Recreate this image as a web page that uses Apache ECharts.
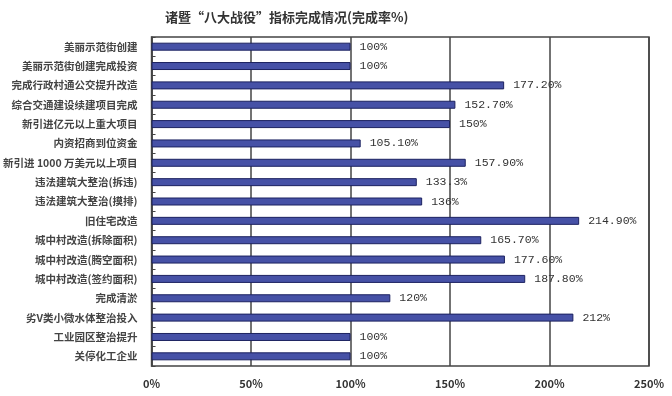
<!DOCTYPE html>
<html><head><meta charset="utf-8">
<script src="https://cdn.jsdelivr.net/npm/echarts@6/dist/echarts.min.js"></script>
<style>html,body{margin:0;padding:0;background:#fff}#c{width:672px;height:396px}</style>
</head><body><div id="c"></div>
<script>
const titleText = '诸暨“八大战役”指标完成情况(完成率%)';
const categories = ['美丽示范街创建','美丽示范街创建完成投资','完成行政村通公交提升改造','综合交通建设续建项目完成','新引进亿元以上重大项目','内资招商到位资金','新引进 1000 万美元以上项目','违法建筑大整治(拆违)','违法建筑大整治(摸排)','旧住宅改造','城中村改造(拆除面积)','城中村改造(腾空面积)','城中村改造(签约面积)','完成清淤','劣V类小微水体整治投入','工业园区整治提升','关停化工企业'];
const values = [100,100,177.2,152.7,150,105.1,157.9,133.3,136,214.9,165.7,177.6,187.8,120,212,100,100];
const valueLabels = ['100%','100%','177.20%','152.70%','150%','105.10%','157.90%','133.3%','136%','214.90%','165.70%','177.60%','187.80%','120%','212%','100%','100%'];
const xTicks = [0,50,100,150,200,250];

const chart = echarts.init(document.getElementById('c'));
const font = '"Noto Sans CJK SC", "Noto Sans", sans-serif';
const mono = '"Liberation Mono", "DejaVu Sans Mono", monospace';
chart.setOption({
  backgroundColor:'#fff',
  animation:false,
  title:{text:titleText,left:160,top:6,textStyle:{fontFamily:font,fontSize:13,fontWeight:'bold',color:'#333'}},
  grid:{left:151,right:23,top:37,bottom:30,show:true,borderColor:'#444',borderWidth:1.5},
  xAxis:{type:'value',min:0,max:250,interval:50,
    axisLine:{show:false},axisTick:{show:false},
    splitLine:{lineStyle:{color:'#444',width:1.5}},
    axisLabel:{formatter:v=>v+'%',fontFamily:font,fontSize:11,fontWeight:'bold',color:'#333',margin:12}},
  yAxis:{type:'category',data:categories,inverse:true,
    axisLine:{show:true,lineStyle:{color:'#444',width:1.5}},
    axisTick:{show:true,inside:true,length:4,lineStyle:{color:'#444'}},
    axisLabel:{fontFamily:font,fontSize:10.5,fontWeight:'bold',color:'#444',margin:14}},
  series:[{type:'bar',data:values,barWidth:8,
    itemStyle:{color:'#4651a6',borderColor:'#1c2260',borderWidth:1},
    label:{show:true,position:'right',distance:9,formatter:p=>valueLabels[p.dataIndex],
      fontFamily:mono,fontSize:11.5,color:'#333'}}]
});
</script></body></html>
